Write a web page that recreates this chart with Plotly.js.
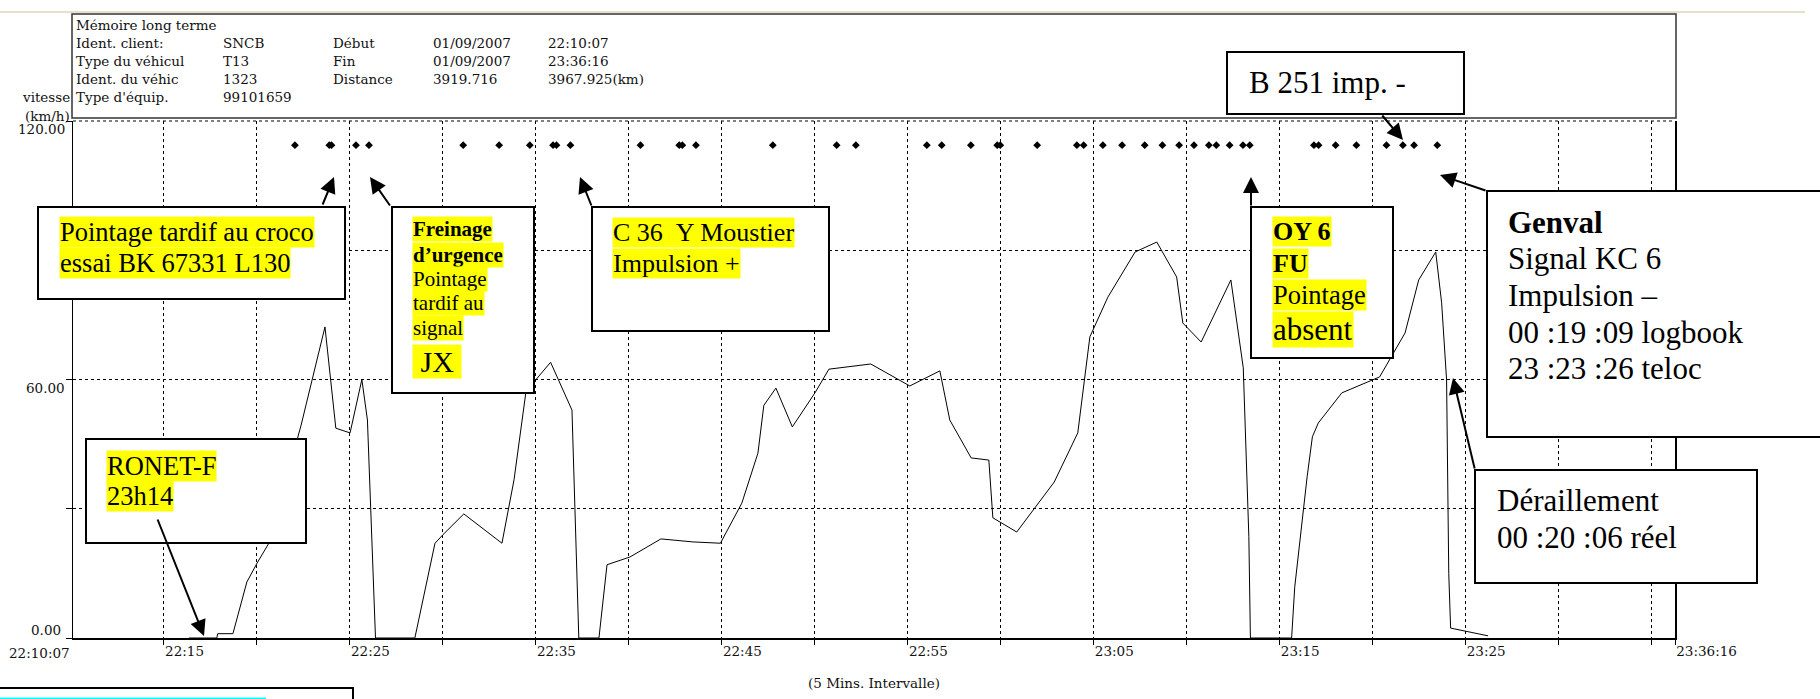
<!DOCTYPE html>
<html>
<head>
<meta charset="utf-8">
<script src="https://cdn.plot.ly/plotly-3.0.1.min.js"></script>
<style>
html,body{margin:0;padding:0;background:#fff;}
#chart{width:1820px;height:699px;}
</style>
</head>
<body>
<div id="chart"></div>
<script>
// ---------------- DATA ----------------
const DAY = '2007-09-01 ';
const startTime = '22:10:07';
const endTime = '23:36:16';

const speedTimes = ['22:16:21','22:17:51','22:17:54','22:18:43','22:19:28','22:20:01','22:20:39','22:22:23','22:23:40','22:24:15',
  '22:25:01','22:25:39','22:25:57','22:26:23','22:28:30','22:29:35','22:30:01','22:31:08','22:33:11','22:33:50',
  '22:34:28','22:34:54','22:35:48','22:36:57','22:37:19','22:38:24','22:38:50','22:40:04','22:41:44','22:43:27',
  '22:44:56','22:46:05','22:46:57','22:47:16','22:47:55','22:48:48','22:50:01','22:50:46','22:53:01','22:55:07',
  '22:56:44','22:57:16','22:58:25','22:59:22','22:59:35','23:00:52','23:02:53','23:04:09','23:04:48','23:05:46',
  '23:07:14','23:08:24','23:09:28','23:09:48','23:10:47','23:12:23','23:13:03','23:13:21','23:13:26','23:15:39',
  '23:15:49','23:16:17','23:16:29','23:16:46','23:17:05','23:18:21','23:20:23','23:21:45','23:22:29','23:23:24',
  '23:23:43','23:23:59','23:24:06','23:24:12','23:26:13'];
const speedKmh = [0,0,1,1,13,17.4,22,49.4,72.2,48.7,
  47.6,60,50.6,0,0,22,24,28.8,22,36.7,
  56.9,59.4,64,52.9,0,0,17,18.8,23,22.3,
  22,31.3,42.9,54,58,49,56.9,62.4,63.6,58.5,
  62,50.6,41.8,41.3,27.9,24.6,36.2,47.6,69.9,79.1,
  89.6,91.9,83.8,73.1,68.7,83.1,62.7,23.5,0,0,
  11.8,30.4,37.4,46.7,49.9,56.9,60.6,70.8,83.1,89.6,
  77.8,59.9,15,2.3,0.5];

const pulseTimes = ['22:22:03','22:23:54','22:24:01','22:25:20','22:26:02','22:31:06','22:33:02','22:34:41','22:35:56','22:36:07',
  '22:36:52','22:40:38','22:42:43','22:42:53','22:43:37','22:47:45','22:51:11','22:52:13','22:56:02','22:56:50',
  '22:58:24','22:59:49','22:59:59','23:01:58','23:04:06','23:04:28','23:05:30','23:06:32','23:07:45','23:08:42',
  '23:09:36','23:10:24','23:11:12','23:11:36','23:12:19','23:13:02','23:13:24','23:16:51','23:17:06','23:18:01',
  '23:19:08','23:20:45','23:21:38','23:22:14','23:23:29'];
const pulseLevel = 114.4;

const xTickTimes = ['22:15:00','22:20:00','22:25:00','22:30:00','22:35:00','22:40:00','22:45:00','22:50:00','22:55:00',
  '23:00:00','23:05:00','23:10:00','23:15:00','23:20:00','23:25:00','23:30:00','23:35:00','23:36:16'];
const xTickLabels = ['22:15','','22:25','','22:35','','22:45','','22:55','','23:05','','23:15','','23:25','','','23:36:16'];
const yTickVals = [0,30,60,90,120];
const yLabelVals = [0,60,120];
const yLabelText = ['0.00','60.00','120.00'];

const headerRows = [
  ['Mémoire long terme'],
  ['Ident. client:','SNCB','Début','01/09/2007','22:10:07'],
  ['Type du véhicul','T13','Fin','01/09/2007','23:36:16'],
  ['Ident. du véhic','1323','Distance','3919.716','3967.925(km)'],
  ["Type d'équip.",'99101659']
];
const yAxisName = ['vitesse','(km/h)'];
const xAxisName = '(5 Mins. Intervalle)';

// ---------------- LAYOUT GEOMETRY ----------------
const W = 1820, H = 699;
const L = 73, R = 1675, T = 121, B = 638;
const PW = R - L, PH = B - T;
const fx = x => (x - L) / PW;
const fy = y => (B - y) / PH;

const SMALL = {family: 'DejaVu Serif, serif', size: 13.5, color: '#111'};
const SERIF = 'Liberation Serif, Times New Roman, serif';

const shapes = [];
const annotations = [];

// faint document line at top
shapes.push({type:'line', xref:'paper', yref:'paper', x0:fx(0), x1:fx(1805), y0:fy(12), y1:fy(12),
  line:{color:'#e6e1cc', width:2}, layer:'above'});
// dashed top grid line at 120
shapes.push({type:'line', xref:'paper', yref:'paper', x0:0, x1:1, y0:1, y1:1,
  line:{color:'#000', width:1, dash:'3px,3px'}, layer:'above'});
// header box
shapes.push({type:'rect', xref:'paper', yref:'paper', x0:fx(72), x1:fx(1676), y0:fy(118), y1:fy(14),
  line:{color:'#333', width:1.5}, fillcolor:'#fff', layer:'above'});

const headerCols = [75, 222, 332, 432, 547];
const headerY = [25, 42.5, 61, 79.5, 97];
headerRows.forEach((row, r) => {
  row.forEach((txt, c) => {
    annotations.push({xref:'paper', yref:'paper', x:fx(headerCols[c]), y:fy(headerY[r]), xanchor:'left', yanchor:'middle',
      text:txt, showarrow:false, font:SMALL, borderpad:0});
  });
});
annotations.push({xref:'paper', yref:'paper', x:fx(71), y:fy(97), xanchor:'right', yanchor:'middle',
  text:yAxisName[0], showarrow:false, font:SMALL, borderpad:0});
annotations.push({xref:'paper', yref:'paper', x:fx(71), y:fy(116), xanchor:'right', yanchor:'middle',
  text:yAxisName[1], showarrow:false, font:SMALL, borderpad:0});
// first x label (right-aligned at axis start)
annotations.push({xref:'paper', yref:'paper', x:fx(71), y:fy(652.5), xanchor:'right', yanchor:'middle',
  text:startTime, showarrow:false, font:SMALL, borderpad:0});
// y tick labels (set just below their grid line, the zero label just above the axis)
yLabelVals.forEach((v, i) => {
  annotations.push({xref:'paper', yref:'y', x:fx(v === 0 ? 62 : 66), y:v, xanchor:'right', yanchor:'middle',
    yshift: v === 0 ? 8 : -8, text:yLabelText[i], showarrow:false, font:SMALL, borderpad:0});
});

// callout boxes: rect [x0,y0,x1,y1], lines [x, yc, text, size, highlight]
const callouts = [
  {rect:[38,207,345,299], lines:[[59,232,'Pointage tardif au croco',26.5,true],[59,263,'essai BK 67331 L130',26.5,true]],
   arrow:[322,206,334,177]},
  {rect:[392,207,534,393], lines:[[412,229,'<b>Freinage</b>',21,true],[412,255,'<b>d’urgence</b>',21,true],
   [412,279,'Pointage',21,true],[412,303,'tardif au',21,true],[412,328,'signal',21,true],[412,361,'\u00a0JX\u00a0',30,true]],
   arrow:[391,207,370,177]},
  {rect:[592,207,829,331], lines:[[612,232,'C 36 \u00a0Y Moustier',26,true],[612,263,'Impulsion +',26,true]],
   arrow:[592,207,580,177]},
  {rect:[1251,207,1393,358], lines:[[1272,231,'<b>OY 6</b>',26,true],[1272,263,'<b>FU</b>',26,true],
   [1272,295,'Pointage',26.5,true],[1272,329,'absent',31,true]],
   arrow:[1251,207,1251,177]},
  {rect:[1227,52,1464,114], lines:[[1248,82,'B 251 imp. -',31,false]], arrow:[1381,114,1403,140]},
  {rect:[1487,191,1830,437], lines:[[1507,222,'<b>Genval</b>',31,false],[1507,258,'Signal KC 6',31,false],
   [1507,295,'Impulsion –',31,false],[1507,332,'00 :19 :09 logbook',31,false],[1507,368,'23 :23 :26 teloc',31,false]],
   arrow:[1487,191,1440,175]},
  {rect:[1475,470,1757,583], lines:[[1496,500,'Déraillement',31,false],[1496,537,'00 :20 :06 réel',31,false]],
   arrow:[1475,470,1453,378]},
  {rect:[86,439,306,543], lines:[[106,466,'RONET-F',26.5,true],[106,496,'23h14',26.5,true]],
   arrow:[157,518,204,636]}
];

callouts.forEach(cb => {
  const [x0,y0,x1,y1] = cb.rect;
  shapes.push({type:'rect', xref:'paper', yref:'paper', x0:fx(x0), x1:fx(x1), y0:fy(y1), y1:fy(y0),
    line:{color:'#000', width:2}, fillcolor:'#fff', layer:'above'});
  cb.lines.forEach(([x, y, txt, size, hl]) => {
    annotations.push({xref:'paper', yref:'paper', x:fx(x), y:fy(y), xanchor:'left', yanchor:'middle',
      text:txt, showarrow:false, borderpad:0, bgcolor: hl ? '#ffff00' : 'rgba(0,0,0,0)',
      font:{family:SERIF, size:size, color:'#000'}});
  });
  const [tx, ty, hx, hy] = cb.arrow;
  annotations.push({xref:'paper', yref:'paper', x:fx(hx), y:fy(hy), text:'', showarrow:true,
    axref:'pixel', ayref:'pixel', ax:tx - hx, ay:ty - hy,
    arrowhead:2, arrowsize:1.6, arrowwidth:2, arrowcolor:'#000', standoff:0, startstandoff:0});
});

// partial box at bottom-left edge
shapes.push({type:'rect', xref:'paper', yref:'paper', x0:fx(-5), x1:fx(353), y0:fy(730), y1:fy(688),
  line:{color:'#000', width:2}, fillcolor:'#fff', layer:'above'});
shapes.push({type:'line', xref:'paper', yref:'paper', x0:fx(0), x1:fx(266), y0:fy(698.5), y1:fy(698.5),
  line:{color:'#00ffff', width:2}, layer:'above'});

// ---------------- TRACES ----------------
const traces = [
  {x: speedTimes.map(t => DAY + t), y: speedKmh, type:'scatter', mode:'lines',
   line:{color:'#000', width:1}, hoverinfo:'skip', showlegend:false},
  {x: pulseTimes.map(t => DAY + t), y: pulseTimes.map(() => pulseLevel), type:'scatter', mode:'markers',
   marker:{symbol:'diamond', size:6, color:'#000'}, hoverinfo:'skip', showlegend:false}
];

const layout = {
  width: W, height: H,
  margin: {l: L, r: W - R, t: T, b: H - B, pad: 0},
  paper_bgcolor: '#fff', plot_bgcolor: '#fff',
  showlegend: false,
  xaxis: {
    type: 'date',
    range: [DAY + startTime, DAY + endTime],
    tickmode: 'array',
    tickvals: xTickTimes.map(t => DAY + t),
    ticktext: xTickLabels,
    ticklabelposition: 'outside right',
    ticks: 'outside', ticklen: 5, tickwidth: 1, tickcolor: '#000',
    showgrid: true, gridcolor: '#000', gridwidth: 1, griddash: '3px,3px',
    showline: true, linecolor: '#000', linewidth: 1.5, mirror: false,
    zeroline: false,
    tickfont: SMALL,
    title: {text: xAxisName, font: SMALL, standoff: 21},
    fixedrange: true
  },
  yaxis: {
    range: [0, 120],
    tickmode: 'array',
    tickvals: yTickVals,
    showticklabels: false,
    ticks: 'outside', ticklen: 6, tickwidth: 1, tickcolor: '#000',
    showgrid: true, gridcolor: '#000', gridwidth: 1, griddash: '3px,3px',
    showline: true, linecolor: '#000', linewidth: 1.5, mirror: true,
    zeroline: false,
    fixedrange: true
  },
  shapes: shapes,
  annotations: annotations
};

Plotly.newPlot('chart', traces, layout, {displayModeBar: false, staticPlot: true});
</script>
</body>
</html>
